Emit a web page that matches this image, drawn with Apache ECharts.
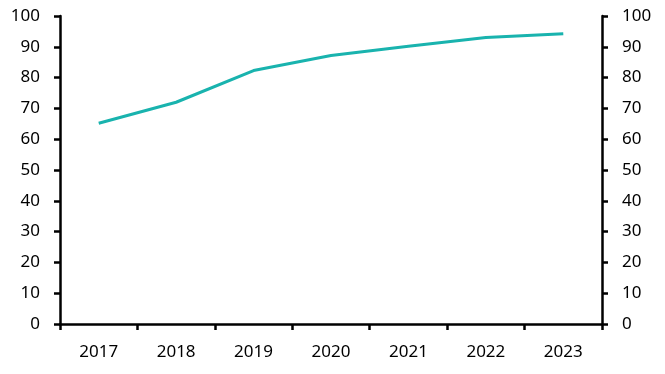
<!DOCTYPE html>
<html>
<head>
<meta charset="utf-8">
<script src="https://cdn.jsdelivr.net/npm/echarts@6/dist/echarts.min.js"></script>
<style>html,body{margin:0;padding:0;background:#fff}#c{width:665px;height:374px}</style>
</head>
<body>
<div id="c"></div>
<script>
var categories = ['2017','2018','2019','2020','2021','2022','2023'];
var values = [65.2, 72, 82.3, 87.2, 90.2, 93, 94.2];
var yTicks = [0,10,20,30,40,50,60,70,80,90,100];

var chart = echarts.init(document.getElementById('c'), null, {renderer:'canvas'});
var font = 'Noto Sans';
var yAxisBase = {
  type:'value', min:0, max:100, interval:10,
  axisLine:{show:true, lineStyle:{color:'#000', width:2.5}},
  axisTick:{show:true, length:6, lineStyle:{color:'#000', width:2.5}},
  axisLabel:{color:'#000', fontSize:17, fontFamily:font, margin:20},
  splitLine:{show:false}
};
chart.setOption({
  animation:false,
  grid:{left:60, right:63, top:16, bottom:50, containLabel:false},
  xAxis:{
    type:'category', data:categories, boundaryGap:true,
    axisLine:{lineStyle:{color:'#000', width:2.5}},
    axisTick:{show:true, length:6, lineStyle:{color:'#000', width:2.5}},
    axisLabel:{color:'#000', fontSize:17, fontFamily:font, margin:20}
  },
  yAxis:[
    Object.assign({}, yAxisBase, {position:'left'}),
    Object.assign({}, yAxisBase, {position:'right'})
  ],
  series:[{
    type:'line', data:values, yAxisIndex:0,
    symbol:'none', lineStyle:{color:'#19B3AE', width:3}
  }]
});
</script>
</body>
</html>
